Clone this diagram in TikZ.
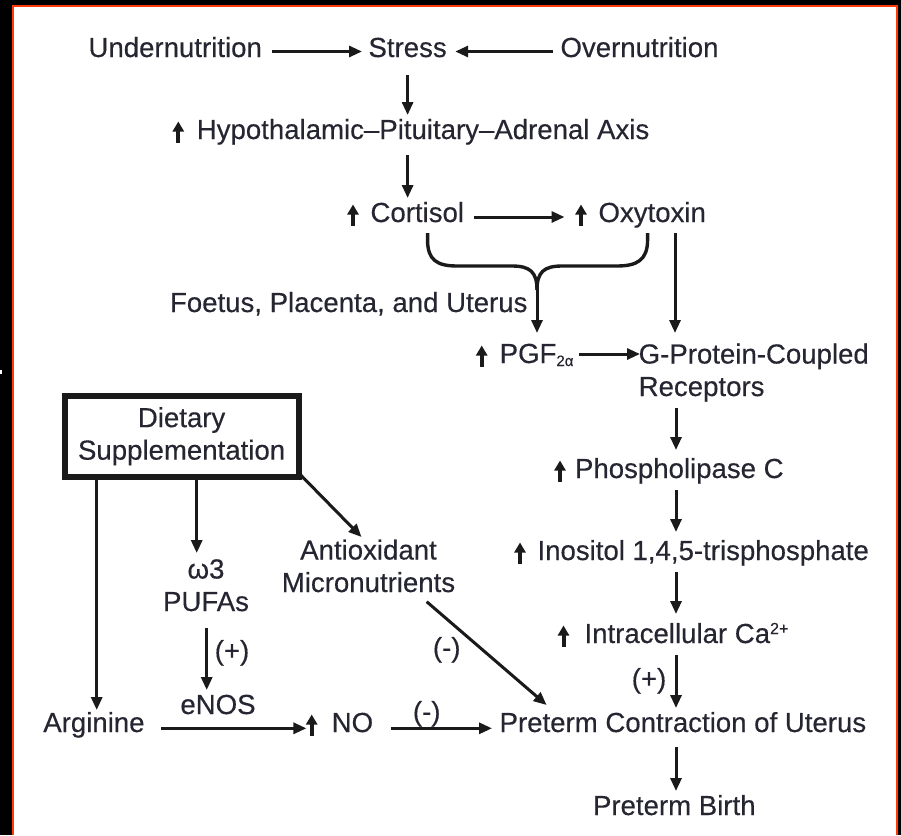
\documentclass[tikz,border=0pt]{standalone}
\usepackage{fontspec}
\setmainfont{Liberation Sans}[FakeBold=0.35]
\usetikzlibrary{arrows.meta,calc}
\definecolor{tc}{HTML}{262632}
\definecolor{lc}{HTML}{1A1A1A}
\definecolor{bord}{HTML}{FF3A0A}
\newcommand\upar[1][8pt]{\tikz[baseline=0pt]{\path[use as bounding box] (-5pt,-3pt) rectangle (5pt,17pt);\draw[lc,line width=4pt,-{Triangle[length=10pt,width=11pt]}] (0pt,-3.5pt) -- (0pt,17.5pt);}\hspace{#1}}
\begin{document}
\begin{tikzpicture}[x=1pt,y=-1pt,
  txt/.style={font=\fontsize{27.6pt}{32.5pt}\selectfont, inner sep=0pt, outer sep=0pt, text=tc},
  arr/.style={draw=lc, line width=3pt, -{Triangle[length=13pt,width=11pt]}},
  brace/.style={draw=lc, line width=3.4pt},
  lbl/.style={txt, anchor=base}]
\useasboundingbox (0,0) rectangle (901,835);
\fill[black] (0,0) rectangle (901,835);
\fill[white] (13,6) rectangle (897,835);
\draw[bord, line width=2.5pt] (13,835) -- (13,6) -- (897,6) -- (897,835);
\fill[white] (0,370) rectangle (2,373.5);

% helper columns
\coordinate (rc) at (676,0);
\coordinate (lc1) at (96.7,0);
\coordinate (lc2) at (196.7,0);
\coordinate (lc3) at (206.7,0);

% nodes
\node[txt,anchor=base west] (under) at (88.5,57) {Undernutrition};
\node[txt,anchor=base west] (stress) at (368.5,57) {Stress};
\node[txt,anchor=base west] (over) at (560.5,57) {Overnutrition};
\node[txt,anchor=base west] (hpa) at (173.3,139) {\upar[13.5pt]Hypothalamic–Pituitary–Adrenal Axis};
\node[txt,anchor=base west] (cort) at (348,222) {\upar[12.5pt]Cortisol};
\node[txt,anchor=base west] (oxy) at (576,222) {\upar[12.5pt]Oxytoxin};
\node[txt,anchor=base west] (foetus) at (170,312) {Foetus, Placenta, and Uterus};
\node[txt,anchor=base west] (pgf) at (476.7,363) {\upar[13pt]PGF\raisebox{-3pt}{\fontsize{15pt}{15pt}\selectfont 2α}};
\node[txt,anchor=base west,align=left] (gpcr) at (638.7,396) {G-Protein-Coupled\\Receptors};
\node[txt,anchor=base west] (phos) at (555,478) {\upar[10pt]Phospholipase C};
\node[txt,anchor=base west] (inos) at (515,560) {\upar[12.5pt]Inositol 1,4,5-trisphosphate};
\node[txt,anchor=base west] (intra) at (558.5,643) {\upar[16pt]Intracellular Ca\raisebox{9pt}{\fontsize{16pt}{16pt}\selectfont 2+}};
\node[txt,anchor=base west] (ptc) at (499.6,732) {Preterm Contraction of Uterus};
\node[txt,anchor=base west] (birth) at (593,815) {Preterm Birth};
\node[txt,draw=lc,line width=6pt,minimum width=234.2pt,minimum height=81.5pt,align=center] (diet) at (181.6,436.25) {\raisebox{-2pt}{Dietary}\\\raisebox{-2pt}{Supplementation}};
\node[txt,anchor=base,align=center] (pufa) at (206,611) {ω3\\PUFAs};
\node[txt,anchor=base,align=center] (anti) at (368.5,592) {Antioxidant\\Micronutrients};
\node[txt,anchor=base] (enos) at (218,714) {eNOS};
\node[txt,anchor=base west] (arg) at (43.3,732) {Arginine};
\node[txt,anchor=base west] (no) at (306.7,732) {\upar[15pt]NO};

% labels
\node[lbl] (plus1) at (232,660) {(+)};
\node[lbl] (plus2) at (649,688) {(+)};
\node[lbl] (minus1) at (426.7,721) {(-)};
\node[lbl] (minus2) at (446.7,657) {(-)};

% top row
\draw[arr] ($(under.base east)+(10.5,-5.5)$) -- ($(stress.base west)+(-6.5,-5.5)$);
\draw[arr] ($(over.base west)+(-7.5,-5.5)$) -- ($(stress.base east)+(8.5,-5.5)$);
\draw[arr] ($(stress.base)+(0,18)$) -- ($(stress.base |- hpa.base)+(0,-24)$);
\draw[arr] ($(stress.base |- hpa.base)+(0,16)$) -- ($(stress.base |- cort.base)+(0,-24)$);
\draw[arr] ($(cort.base east)+(9.5,-5)$) -- ($(oxy.base west)+(-11.5,-5)$);
\draw[arr] ($(rc |- oxy.base)+(-1,11)$) -- ($(rc |- gpcr.base)+(-1,-63)$);

% brace
\coordinate (bl) at ($(cort.base east)+(-36.5,11)$);
\coordinate (br) at ($(oxy.base east)+(-58.3,11)$);
\coordinate (bj) at ($(pgf.base west)+(60.3,-97)$);
\draw[brace] (bl) -- ++(0,7) .. controls +(0,20) and +(-20,0) .. ($(bj)+(-80,0)$) -- ($(bj)+(-25,0)$) .. controls +(18,0) and +(0,-18) .. ($(bj)+(0,24)$);
\draw[brace] (br) -- ++(0,7) .. controls +(0,20) and +(20,0) .. ($(bj)+(80,0)$) -- ($(bj)+(25,0)$) .. controls +(-18,0) and +(0,-18) .. ($(bj)+(0,24)$);
\draw[arr] ($(bj)+(0,23)$) -- ($(pgf.base west)+(60.3,-30)$);

% right column
\draw[arr] ($(pgf.base east)+(6,-9)$) -- ($(gpcr.base west)+(1.3,-42)$);
\draw[arr] ($(rc |- gpcr.base)+(0,12)$) -- ($(rc |- phos.base)+(0,-28)$);
\draw[arr] ($(rc |- phos.base)+(0,12)$) -- ($(rc |- inos.base)+(0,-28)$);
\draw[arr] ($(rc |- inos.base)+(0,12)$) -- ($(rc |- intra.base)+(0,-29)$);
\draw[arr] ($(rc |- intra.base)+(0,12)$) -- ($(rc |- ptc.base)+(0,-24)$);
\draw[arr] ($(rc |- ptc.base)+(0,15)$) -- ($(rc |- birth.base)+(0,-24)$);

% left part
\draw[arr] (lc1 |- diet.south) -- ($(lc1 |- arg.base)+(0,-22)$);
\draw[arr] (lc2 |- diet.south) -- ($(lc2 |- pufa.base)+(0,-58)$);
\draw[arr] ($(diet.south east)+(0,-4)$) -- ($(anti.base)+(-7,-55)$);
\draw[arr] ($(lc3 |- pufa.base)+(0,17)$) -- ($(lc3 |- enos.base)+(0,-24)$);
\draw[arr] ($(anti.base)+(58.2,9.7)$) -- ($(ptc.base west)+(47,-27)$);
\draw[arr] ($(arg.base east)+(16.5,-3.7)$) -- ($(no.base west)+(-0.3,-3.7)$);
\draw[arr] ($(no.base east)+(17.5,-3.7)$) -- ($(ptc.base west)+(-7.6,-3.7)$);
\end{tikzpicture}
\end{document}
